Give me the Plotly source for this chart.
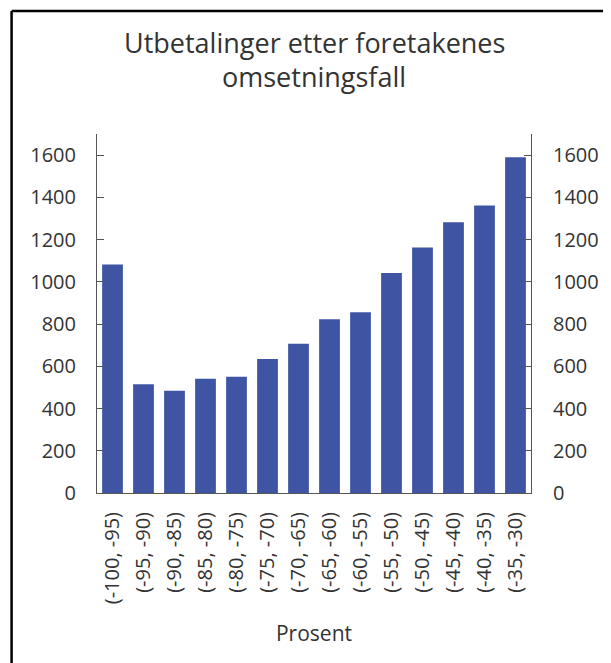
import plotly.graph_objects as go

# data
intervals = ["(-100, -95)", "(-95, -90)", "(-90, -85)", "(-85, -80)", "(-80, -75)",
             "(-75, -70)", "(-70, -65)", "(-65, -60)", "(-60, -55)", "(-55, -50)",
             "(-50, -45)", "(-45, -40)", "(-40, -35)", "(-35, -30)"]
payments = [1082, 515, 484, 541, 550, 634, 707, 823, 856, 1042, 1162, 1282, 1362, 1590]
y_ticks = [0, 200, 400, 600, 800, 1000, 1200, 1400, 1600]
title_lines = ["Utbetalinger etter foretakenes", "omsetningsfall"]

#! page body adds ~8px offset, so the figure is 8px smaller
W, H = 603, 655
ml, mr, mt, mb = 89, 77, 126, 170
pw, ph = W - ml - mr, H - mt - mb

font = "Open Sans"
bar_color = "#3f55a4"
axis_color = "#555555"
text_color = "#333333"

def px_x(p):
    return (p - ml) / pw

def px_y(p):
    return (H - mb - p) / ph

fig = go.Figure()
fig.add_trace(go.Bar(x=intervals, y=payments, marker_color=bar_color,
                     marker_line_width=0, showlegend=False))
#! invisible twin so the right axis gets drawn
fig.add_trace(go.Scatter(x=intervals, y=payments, yaxis="y2", mode="markers",
                         marker=dict(opacity=0), showlegend=False, hoverinfo="skip"))

yaxis_common = dict(range=[0, 1700], tickvals=y_ticks, ticks="inside", ticklen=7,
                    tickcolor=axis_color, showline=True, linecolor=axis_color, linewidth=1,
                    showgrid=False, zeroline=False,
                    tickfont=dict(family=font, size=20, color=text_color))

fig.update_layout(
    width=W, height=H,
    margin=dict(l=ml, r=mr, t=mt, b=mb),
    paper_bgcolor="white", plot_bgcolor="white",
    bargap=0.33,
    xaxis=dict(tickangle=-90, showline=True, linecolor=axis_color, linewidth=1,
               range=[-0.5, len(intervals) - 0.5],
               ticks="", showgrid=False, ticklabelstandoff=10,
               tickfont=dict(family=font, size=20, color=text_color),
               title=dict(text="Prosent", standoff=23,
                          font=dict(family=font, size=21, color=text_color))),
    yaxis=dict(ticklabelstandoff=16, **yaxis_common),
    yaxis2=dict(overlaying="y", side="right", ticklabelstandoff=17, **yaxis_common),
    annotations=[
        dict(text=t, xref="paper", yref="paper", x=0.5, y=px_y(yy), xanchor="center",
             yanchor="middle", showarrow=False,
             font=dict(family=font, size=27, color=text_color))
        for t, yy in zip(title_lines, [34, 68])
    ],
    shapes=[
        dict(type="line", xref="paper", yref="paper",
             x0=px_x(3), x1=px_x(3), y0=px_y(3), y1=px_y(H + 5),
             line=dict(color="black", width=2.5)),
        dict(type="line", xref="paper", yref="paper",
             x0=px_x(3), x1=px_x(W + 5), y0=px_y(3), y1=px_y(3),
             line=dict(color="black", width=2.5)),
    ],
)

fig.write_html("out.html")
